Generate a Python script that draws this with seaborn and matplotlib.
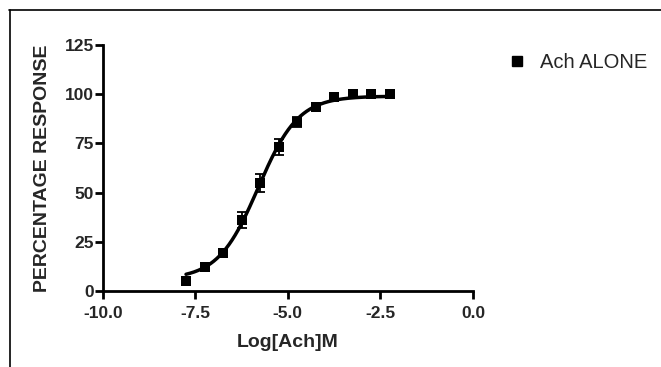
import numpy as np
import pandas as pd
import matplotlib
matplotlib.use("Agg")
import matplotlib.pyplot as plt
from matplotlib.lines import Line2D
import seaborn as sns

# Data
log_conc = [-7.75, -7.25, -6.75, -6.25, -5.75, -5.25, -4.75, -4.25, -3.75, -3.25, -2.75, -2.25]
response = [5.0, 12.0, 19.5, 36.0, 55.0, 73.0, 86.0, 93.5, 98.5, 100.0, 100.0, 100.0]
sem = [0.5, 1.0, 2.0, 4.0, 4.5, 4.0, 2.5, 1.0, 0.5, 0.3, 0.3, 0.3]

# Fitted sigmoidal dose-response parameters (4PL)
fit_bottom = 6.0
fit_top = 99.0
fit_logec50 = -5.8
fit_hill = 0.8

x_ticks = [-10.0, -7.5, -5.0, -2.5, 0.0]
y_ticks = [0, 25, 50, 75, 100, 125]
series_name = "Ach ALONE"

sns.set_theme(style="ticks")
plt.rcParams['font.family'] = ['Liberation Sans', 'DejaVu Sans']
plt.rcParams['axes.unicode_minus'] = False

fig = plt.figure(figsize=(6.61, 3.67), dpi=100)
ax = fig.add_axes([102.7/661, 1-291/367, (473-102.7)/661, (291-45)/367])

df = pd.DataFrame({"x": log_conc, "y": response})
xfit = np.linspace(min(log_conc), max(log_conc), 200)
yfit = fit_bottom + (fit_top - fit_bottom) / (1 + 10 ** ((fit_logec50 - xfit) * fit_hill))
sns.lineplot(x=xfit, y=yfit, ax=ax, color="black", linewidth=2.5, legend=False)
ax.errorbar(log_conc, response, yerr=sem, fmt="none", ecolor="black",
            elinewidth=1.3, capsize=3.5, capthick=1.3, clip_on=False)
sns.scatterplot(data=df, x="x", y="y", ax=ax, marker="s", s=55, color="black",
                edgecolor="black", linewidth=0, legend=False, clip_on=False, zorder=5)

ax.set_xlim(-10, 0)
ax.set_ylim(0, 125)
ax.set_xticks(x_ticks)
ax.set_xticklabels([f"{v:.1f}" for v in x_ticks])
ax.set_yticks(y_ticks)
ax.set_yticklabels([str(v) for v in y_ticks])
for s in ["top", "right"]:
    ax.spines[s].set_visible(False)
for s in ["left", "bottom"]:
    ax.spines[s].set_linewidth(2.0)
    ax.spines[s].set_color("black")
ax.tick_params(axis="both", width=2.0, length=5.5, color="black", labelsize=12.5)
ax.tick_params(axis="x", pad=5)
ax.tick_params(axis="y", pad=1)
for lab in ax.get_xticklabels() + ax.get_yticklabels():
    lab.set_fontweight("bold")

ax.set_xlabel("Log[Ach]M", fontsize=14, fontweight="bold", labelpad=10)
ax.set_ylabel("PERCENTAGE RESPONSE", fontsize=14, fontweight="bold", labelpad=10)

handle = Line2D([], [], marker="s", linestyle="none", color="black", markersize=7)
fig.legend([handle], [series_name], loc="center left",
           bbox_to_anchor=(505/661, 1-63/367), frameon=False, fontsize=14.5,
           handletextpad=0.55, handlelength=1.2, borderpad=0, borderaxespad=0)

# figure frame (top and left edges)
fig.add_artist(Line2D([9/661, 1], [1-10/367, 1-10/367], color="black", lw=1.2, transform=fig.transFigure))
fig.add_artist(Line2D([10/661, 10/661], [0, 1-10/367], color="black", lw=1.2, transform=fig.transFigure))

fig.savefig("out.png", dpi=100)
